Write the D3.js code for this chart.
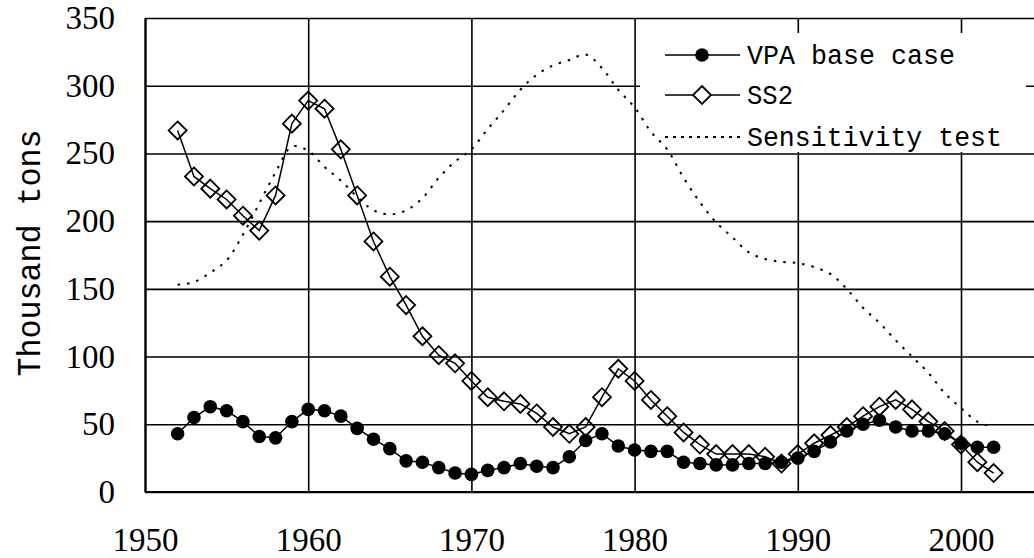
<!DOCTYPE html>
<html>
<head>
<meta charset="utf-8">
<script src="https://cdn.jsdelivr.net/npm/d3@7"></script>
<style>
  html, body { margin: 0; padding: 0; background: #fff; }
  svg { display: block; }
  .num { font-family: "Liberation Serif", "Times New Roman", Tinos, "DejaVu Serif", serif; }
  .mono { font-family: "Liberation Mono", "Courier New", Cousine, "DejaVu Sans Mono", monospace; }
</style>
</head>
<body>
<svg id="chart" width="1034" height="558"></svg>
<script>
// ---- data ----
const years = d3.range(1952, 2003);
const vpaBase = [43, 55, 63, 60, 52, 41, 40, 52, 61, 60, 56, 47, 39, 32, 23, 22, 18, 14, 13, 16,
  18, 21, 19, 18, 26, 38, 43, 34, 31, 30, 30, 22, 21, 20, 20, 21, 21, 22, 25, 30,
  37, 45, 50, 53, 48, 45, 45, 43, 36, 33, 33];
const ss2 = [267, 233, 224, 216, 204, 193, 219, 272, 289, 283, 253, 219, 185, 159, 138, 115, 101, 95, 82, 70,
  67, 65, 58, 48, 43, 48, 70, 91, 82, 68, 56, 44, 35, 28, 28, 28, 26, 21, 28, 36,
  42, 48, 56, 63, 68, 61, 52, 45, 35, 22, 14];
const sensitivity = [153, 155, 162, 171, 190, 213, 236, 255, 252, 240, 230, 218, 208, 205, 208, 217, 232, 244, 253, 268,
  282, 297, 308, 315, 319, 323, 313, 297, 284, 266, 253, 232, 214, 199, 188, 177, 172, 170, 169, 166,
  161, 150, 136, 125, 112, 100, 88, 73, 62, 52, 48];
const xTicks = [1950, 1960, 1970, 1980, 1990, 2000];
const yTicks = [0, 50, 100, 150, 200, 250, 300, 350];
const seriesNames = ["VPA base case", "SS2", "Sensitivity test"];
const yTitle = "Thousand tons";

(function () {
// ---- layout ----
const pLeft = 145, pTop = 18, pBottom = 492, pRight = 1034;
const svg = d3.select("#chart");
const x = d3.scaleLinear().domain([1950, 2000]).range([145, 961]);
const y = d3.scaleLinear().domain([0, 350]).range([pBottom, pTop]);

// grid + axes
const gy = svg.append("g").attr("transform", `translate(${pLeft},0)`)
  .call(d3.axisLeft(y).tickValues(yTicks).tickFormat(d3.format("d"))
    .tickSize(-(pRight - pLeft)).tickSizeOuter(0).tickPadding(30));
gy.attr("font-family", null).attr("font-size", null);
gy.selectAll(".tick line").attr("stroke", "#000").attr("stroke-width", 1.6);
gy.select(".domain").attr("stroke", "#000").attr("stroke-width", 2.2);
gy.selectAll(".tick text").attr("class", "num").style("font-size", "33px").attr("fill", "#000");

const gx = svg.append("g").attr("transform", `translate(0,${pBottom})`)
  .call(d3.axisBottom(x).tickValues(xTicks).tickFormat(d3.format("d"))
    .tickSize(-(pBottom - pTop)).tickSizeOuter(0).tickPadding(36));
gx.attr("font-family", null).attr("font-size", null);
gx.selectAll(".tick line").attr("stroke", "#000").attr("stroke-width", 1.6);
gx.select(".domain").remove();
gx.selectAll(".tick text").attr("class", "num").style("font-size", "33px").attr("fill", "#000");
svg.append("line").attr("x1", pLeft).attr("x2", pRight).attr("y1", pBottom).attr("y2", pBottom)
  .attr("stroke", "#000").attr("stroke-width", 2.2);

// y title
svg.append("text").attr("class", "mono")
  .attr("transform", "translate(40,253) rotate(-90)")
  .attr("text-anchor", "middle")
  .style("font-size", "34px")
  .attr("textLength", 247).attr("lengthAdjust", "spacingAndGlyphs")
  .attr("fill", "#000").text(yTitle);

// legend background (hides grid)
svg.append("rect").attr("x", 640).attr("y", 33).attr("width", 386).attr("height", 119).attr("fill", "#fff");

// ---- series ----
const lineGen = d3.line().x((d, i) => x(years[i])).y(d => y(d));

// sensitivity (dotted, smooth)
svg.append("path")
  .attr("d", d3.line().x((d, i) => x(years[i])).y(d => y(d)).curve(d3.curveCatmullRom)(sensitivity))
  .attr("fill", "none").attr("stroke", "#000").attr("stroke-width", 2)
  .attr("stroke-dasharray", "2.5,7");

// VPA base case
svg.append("path").attr("d", lineGen(vpaBase))
  .attr("fill", "none").attr("stroke", "#000").attr("stroke-width", 1.5);
svg.append("g").selectAll("circle").data(vpaBase).join("circle")
  .attr("cx", (d, i) => x(years[i])).attr("cy", d => y(d)).attr("r", 6.8).attr("fill", "#000");

// SS2
svg.append("path").attr("d", lineGen(ss2))
  .attr("fill", "none").attr("stroke", "#000").attr("stroke-width", 1.5);
const diamond = (cx, cy, r) => `M${cx},${cy - r}L${cx + r},${cy}L${cx},${cy + r}L${cx - r},${cy}Z`;
svg.append("g").selectAll("path").data(ss2).join("path")
  .attr("d", (d, i) => diamond(x(years[i]), y(d), 9))
  .attr("fill", "none").attr("stroke", "#000").attr("stroke-width", 1.8);

// ---- legend ----
const legY = [55, 95, 137];
const lg = svg.append("g");
lg.append("line").attr("x1", 665).attr("x2", 740).attr("y1", legY[0]).attr("y2", legY[0]).attr("stroke", "#000").attr("stroke-width", 1.5);
lg.append("circle").attr("cx", 702).attr("cy", legY[0]).attr("r", 6.8).attr("fill", "#000");
lg.append("line").attr("x1", 665).attr("x2", 740).attr("y1", legY[1]).attr("y2", legY[1]).attr("stroke", "#000").attr("stroke-width", 1.5);
lg.append("path").attr("d", diamond(702, legY[1], 9)).attr("fill", "#fff").attr("stroke", "#000").attr("stroke-width", 1.8);
lg.append("line").attr("x1", 665).attr("x2", 740).attr("y1", legY[2]).attr("y2", legY[2]).attr("stroke", "#000").attr("stroke-width", 2).attr("stroke-dasharray", "3,5");
const lens = [208, 46, 255];
seriesNames.forEach((n, i) => {
  lg.append("text").attr("class", "mono").attr("x", 747).attr("y", legY[i]).attr("dy", "0.35em")
    .style("font-size", "27px")
    .attr("textLength", lens[i]).attr("lengthAdjust", "spacingAndGlyphs")
    .attr("fill", "#000").text(n);
});
})();
</script>
</body>
</html>
